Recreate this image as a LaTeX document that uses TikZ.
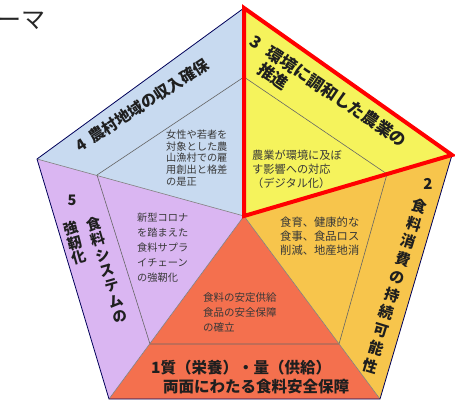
\documentclass[tikz,border=0pt]{standalone}
\usepackage{fontspec}
\setmainfont{Noto Sans CJK JP}
\begin{document}
\begin{tikzpicture}[x=1pt,y=-1pt,
  title/.style={font=\bfseries\fontsize{15.5}{18.5}\selectfont, text=black!88, inner sep=0pt, align=center},
  body/.style={text=black!78, inner sep=0pt, align=left},
  radial/.style={draw=black!50, line width=0.6pt},
  strip/.style={draw=black!60, line width=0.6pt},
  rim/.style={draw=black!65!blue, line width=0.8pt, line join=miter},
  hilite/.style={draw=red, line width=4pt, line join=miter}
]
\definecolor{sA}{RGB}{244,112,78}
\definecolor{sB}{RGB}{247,197,76}
\definecolor{sC}{RGB}{245,243,92}
\definecolor{sD}{RGB}{200,218,240}
\definecolor{sE}{RGB}{218,182,242}
\useasboundingbox (0,0) rectangle (455,402);
% pentagon
\coordinate (C) at (244,216);
\coordinate (T) at (244,8);
\coordinate (R) at (452,155);
\coordinate (BR) at (380,399);
\coordinate (BL) at (109,399);
\coordinate (L) at (37,159);
% inner strip points
\coordinate (I3) at (244,77);
\coordinate (I2) at (387,174);
\coordinate (I1r) at (339,344);
\coordinate (I1l) at (150,344);
\coordinate (I5) at (97,175);
% sectors
\fill[sA] (C) -- (BL) -- (BR) -- cycle;
\fill[sB] (C) -- (BR) -- (R) -- cycle;
\fill[sC] (C) -- (R) -- (T) -- cycle;
\fill[sD] (C) -- (T) -- (L) -- cycle;
\fill[sE] (C) -- (L) -- (BL) -- cycle;
% strips
\draw[strip] (I3) -- (I2) -- (I1r) -- (I1l) -- (I5) -- (I3);
% radial lines
\draw[radial] (C) -- (T) (C) -- (R) (C) -- (BR) (C) -- (BL) (C) -- (L);
% rim
\draw[rim] (T) -- (R) -- (BR) -- (BL) -- (L) -- cycle;
% highlight
\draw[hilite] (T) -- (R) -- (C) -- cycle;
% heading fragment
\node[anchor=west, inner sep=0pt, font=\fontsize{24}{26}\selectfont, text=black!85] (head) at (-3,21) {ーマ};
% section 1
\node[title, anchor=west] (t1a) at (151,368) {1質（栄養）・量（供給）};
\node[title, anchor=west] (t1b) at (163,387) {両面にわたる食料安全保障};
\node[body, anchor=west, font=\fontsize{10.5}{15}\selectfont] (b1) at (203,312) {食料の安定供給\\食品の安全保障\\の確立};
% section 2
\node[title, font=\bfseries\fontsize{15}{18.6}\selectfont] (n2) at (428,184) {2};
\node[title, rotate=-17, font=\bfseries\fontsize{15}{18.6}\selectfont] (t2) at (395,286) {食\\料\\消\\費\\の\\持\\続\\可\\能\\性};
\node[body, anchor=west, font=\fontsize{11.3}{14}\selectfont] (b2) at (280,236) {食育、健康的な\\食事、食品ロス\\削減、地産地消};
% section 3
\node[title, rotate=-34, anchor=base west, font=\bfseries\fontsize{16.5}{20}\selectfont] (t3a) at (248,44) {3\hspace{10pt}環境に調和した農業の};
\node[title, rotate=-34, anchor=base west, font=\bfseries\fontsize{16.5}{20}\selectfont] (t3b) at (256,72) {推進};
\node[body, anchor=west, font=\fontsize{11.2}{14}\selectfont] (b3) at (252,169) {農業が環境に及ぼ\\す影響への対応\\（デジタル化）};
% section 4
\node[title, rotate=33] (t4) at (142,105) {4\hspace{6pt}農村地域の収入確保};
\node[body, anchor=west, font=\fontsize{10.2}{11.7}\selectfont] (b4) at (166,158) {女性や若者を\\対象とした農\\山漁村での雇\\用創出と格差\\の是正};
% section 5
\node[title, font=\bfseries\fontsize{14.5}{16.5}\selectfont] (n5) at (72,200) {5};
\node[title, rotate=16, font=\bfseries\fontsize{14.5}{16}\selectfont] (t5a) at (107,270) {食\\料\\シ\\ス\\テ\\ム\\の};
\node[title, rotate=16, font=\bfseries\fontsize{14.5}{15}\selectfont] (t5b) at (75,243) {強\\靭\\化};
\node[body, anchor=west, font=\fontsize{10.2}{15}\selectfont] (b5) at (137,248) {新型コロナ\\を踏まえた\\食料サプラ\\イチェーン\\の強靭化};
\end{tikzpicture}
\end{document}
